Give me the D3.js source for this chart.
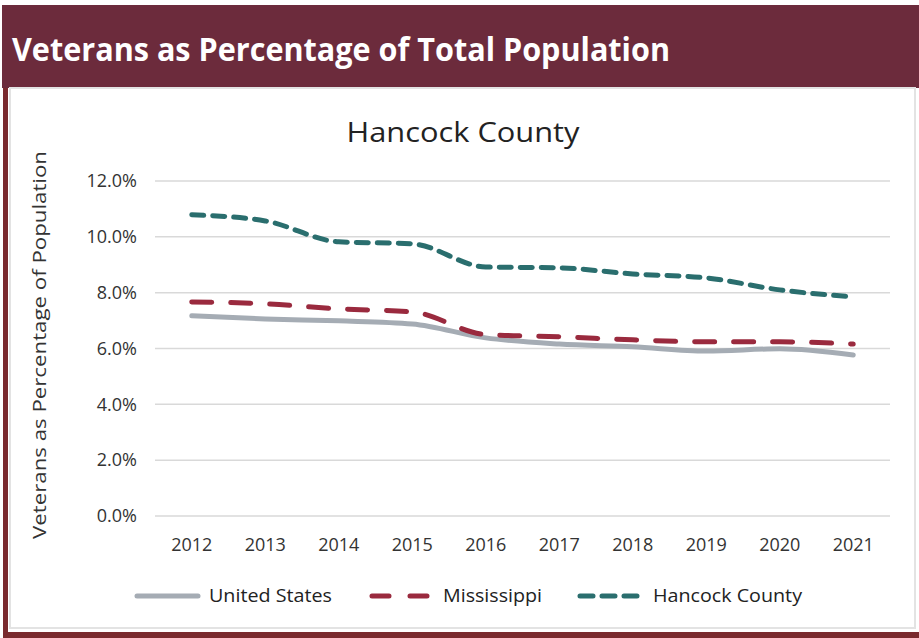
<!DOCTYPE html>
<html>
<head>
<meta charset="utf-8">
<script src="https://cdn.jsdelivr.net/npm/d3@7"></script>
<style>
  body { margin: 0; background: #fff; }
  svg { display: block; }
  text { font-family: "Open Sans", "Noto Sans", sans-serif; }
</style>
</head>
<body>
<div id="chart"></div>
<script>
// data
var years = ["2012", "2013", "2014", "2015", "2016", "2017", "2018", "2019", "2020", "2021"];
var unitedStates = [7.17, 7.06, 6.99, 6.88, 6.38, 6.16, 6.06, 5.91, 5.99, 5.77];
var mississippi  = [7.67, 7.60, 7.42, 7.31, 6.50, 6.42, 6.31, 6.24, 6.24, 6.16];
var hancock      = [10.79, 10.57, 9.82, 9.75, 8.92, 8.89, 8.67, 8.53, 8.10, 7.85];
var yTicks = [0, 2, 4, 6, 8, 10, 12];
var seriesNames = ["United States", "Mississippi", "Hancock County"];

var width = 919, height = 638;
var plot = {left: 155, right: 890, top: 181, bottom: 516};

var svg = d3.select('#chart')
  .append('svg')
  .attr('width', width)
  .attr('height', height);

// frame: header band, left + bottom maroon edges, grey panel outline
svg.append("rect")
  .attr("x", 2).attr("y", 5)
  .attr("width", width - 2).attr("height", 83)
  .attr("fill", "#6c2b3c");
svg.append("rect")
  .attr("x", 10).attr("y", 88)
  .attr("width", 905).attr("height", 540)
  .attr("fill", "#fff")
  .style("stroke", "#e3e3e3")
  .style("stroke-width", 2);
svg.append("rect")
  .attr("x", 3).attr("y", 88)
  .attr("width", 5).attr("height", height - 88)
  .attr("fill", "#7a2a2e");
svg.append("rect")
  .attr("x", 3).attr("y", 632)
  .attr("width", width - 3).attr("height", 6)
  .attr("fill", "#7a2a2e");

svg.append("text")
  .attr("x", 12)
  .attr("y", 61)
  .attr("fill", "#fff")
  .style("font-size", "33px")
  .style("font-weight", "bold")
  .attr("textLength", 658)
  .attr("lengthAdjust", "spacingAndGlyphs")
  .text("Veterans as Percentage of Total Population");

// scales
var x = d3.scaleBand()
  .domain(years)
  .range([plot.left, plot.right]);
var y = d3.scaleLinear()
  .domain([0, 12])
  .range([plot.bottom, plot.top]);

// gridlines
svg.append("g")
  .selectAll("line")
  .data(yTicks)
  .enter().append("line")
    .attr("x1", plot.left)
    .attr("x2", plot.right)
    .attr("y1", function(d) { return y(d); })
    .attr("y2", function(d) { return y(d); })
    .style("stroke", "#d9d9d9")
    .style("stroke-width", 1.5);

// y axis labels
var yAxis = d3.axisLeft(y)
  .tickValues(yTicks)
  .tickSize(0)
  .tickPadding(0)
  .tickFormat(function(d) { return d3.format(".1f")(d) + "%"; });
var gy = svg.append("g")
  .attr("transform", "translate(137,0)")
  .call(yAxis);
gy.select(".domain").remove();
gy.selectAll("text")
  .style("font-size", "18px")
  .attr("fill", "#333");

// x axis labels
var xAxis = d3.axisBottom(x).tickSize(0).tickPadding(0);
var gx = svg.append("g")
  .attr("transform", "translate(0,538)")
  .call(xAxis);
gx.select(".domain").remove();
gx.selectAll("text")
  .style("font-size", "18px")
  .attr("fill", "#333");

// titles
svg.append("text")
  .attr("x", 463)
  .attr("y", 142)
  .attr("text-anchor", "middle")
  .attr("fill", "#222")
  .style("font-size", "28px")
  .attr("textLength", 233)
  .attr("lengthAdjust", "spacingAndGlyphs")
  .text("Hancock County");

svg.append("text")
  .attr("transform", "translate(46,345) rotate(-90)")
  .attr("text-anchor", "middle")
  .attr("fill", "#333")
  .style("font-size", "18px")
  .attr("textLength", 388)
  .attr("lengthAdjust", "spacingAndGlyphs")
  .text("Veterans as Percentage of Population");

// lines
var series = [
  {name: seriesNames[0], values: unitedStates, color: "#a5acb4", dash: null},
  {name: seriesNames[1], values: mississippi, color: "#9a2a3e", dash: "20,19"},
  {name: seriesNames[2], values: hancock, color: "#2a6e6e", dash: "12,9"}
];

var line = d3.line()
  .x(function(d, i) { return x(years[i]) + x.bandwidth() / 2; })
  .y(function(d) { return y(d); })
  .curve(d3.curveMonotoneX);

svg.append("g")
  .selectAll("path")
  .data(series)
  .enter().append("path")
    .attr("d", function(s) { return line(s.values); })
    .attr("fill", "none")
    .attr("stroke", function(s) { return s.color; })
    .attr("stroke-width", 5)
    .attr("stroke-linecap", "round")
    .attr("stroke-dasharray", function(s) { return s.dash; });

// legend
var legendItems = [
  {s: series[0], x1: 137, x2: 198, tx: 209, tw: 123, dash: null},
  {s: series[1], x1: 372, x2: 430, tx: 443, tw: 99, dash: "17,21"},
  {s: series[2], x1: 580, x2: 640, tx: 653, tw: 149, dash: "13,9"}
];
var lg = svg.append("g").selectAll("g")
  .data(legendItems)
  .enter().append("g");
lg.append("line")
  .attr("x1", function(d) { return d.x1; })
  .attr("x2", function(d) { return d.x2; })
  .attr("y1", 596).attr("y2", 596)
  .attr("stroke", function(d) { return d.s.color; })
  .attr("stroke-width", 5)
  .attr("stroke-linecap", "round")
  .attr("stroke-dasharray", function(d) { return d.dash; });
lg.append("text")
  .attr("x", function(d) { return d.tx; })
  .attr("y", 602)
  .attr("fill", "#222")
  .style("font-size", "18px")
  .attr("textLength", function(d) { return d.tw; })
  .attr("lengthAdjust", "spacingAndGlyphs")
  .text(function(d) { return d.s.name; });
</script>
</body>
</html>
